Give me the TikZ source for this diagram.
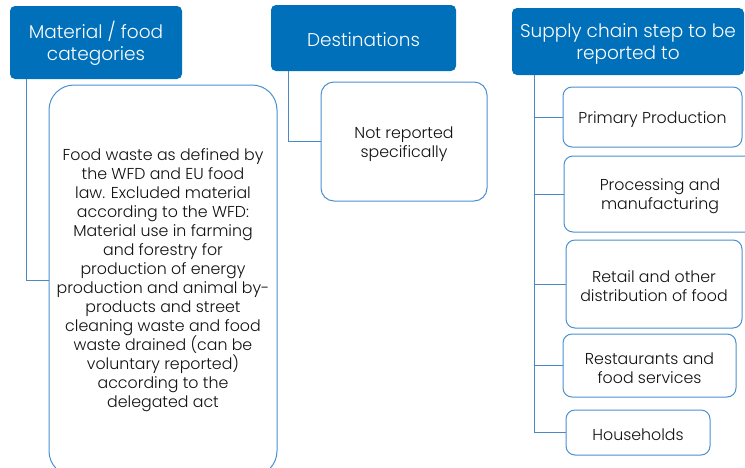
\documentclass[tikz,border=0pt]{standalone}
\usepackage{fontspec}
\setmainfont{Poppins Light}
\usetikzlibrary{calc}
\definecolor{headblue}{HTML}{0070BA}
\definecolor{edgeblue}{HTML}{4A90D2}
\definecolor{linkblue}{HTML}{4A88C6}
\definecolor{ink}{HTML}{111111}
% taller first line, to lower the text block a little in its box
\newcommand{\headstrut}{\rule{0pt}{18pt}}
\newcommand{\itemstrut}{\rule{0pt}{16.5pt}}
\tikzset{
  header/.style={fill=headblue, draw=none, rounded corners=5pt, text=white,
    align=center, font=\fontsize{18.5}{22}\selectfont, inner sep=0pt},
  item/.style={draw=edgeblue, line width=1pt, fill=white, rounded corners=9pt,
    text=ink, align=center, font=\fontsize{15.8}{19}\selectfont, inner sep=0pt},
  link/.style={draw=linkblue, line width=1pt}
}
\begin{document}
\begin{tikzpicture}[x=1pt, y=-1pt]
\useasboundingbox (0,0) rectangle (745,467);
\clip (0,0) rectangle (745,467);

% column headers
\node[header, minimum width=172pt, minimum height=73pt] (h1) at (96,42.5)
  {\headstrut Material / food\\categories};
\node[header, minimum width=185pt, minimum height=66pt] (h2) at (363.5,38)
  {\headstrut Destinations};
\node[header, minimum width=232pt, minimum height=67pt] (h3) at (628,41.5)
  {\headstrut Supply chain step to be\\reported to};

% material / food categories
\node[item, rounded corners=25pt, minimum width=228pt, minimum height=391pt] (big) at (163,280.5)
  {Food waste as defined by\\the WFD and EU food\\law. Excluded material\\according to the WFD:\\
   Material use in farming\\and forestry for\\production of energy\\production and animal by-\\
   products and street\\cleaning waste and food\\waste drained (can be\\voluntary reported)\\
   according to the\\delegated act};

% destinations
\node[item, rounded corners=13pt, minimum width=166pt, minimum height=119pt] (nr) at (404,141.5)
  {\itemstrut Not reported\\specifically};

% supply chain steps
\node[item, minimum width=179pt, minimum height=60pt] (pp) at (652.5,117) {\itemstrut Primary Production};
\node[item, minimum width=192pt, minimum height=76pt] (proc) at (660,194) {\itemstrut Processing and\\manufacturing};
\node[item, minimum width=176pt, minimum height=88pt] (ret) at (654,284) {\itemstrut Retail and other\\distribution of food};
\node[item, minimum width=173pt, minimum height=63pt] (rest) at (649.5,365.5) {\itemstrut Restaurants and\\food services};
\node[item, minimum width=144pt, minimum height=45pt] (hh) at (638,432.5) {\itemstrut Households};

% connectors
\coordinate (t1) at ($(h1.south west)+(17,0)$);
\coordinate (t2) at ($(h2.south west)+(18,0)$);
\coordinate (t3) at ($(h3.south west)+(23,0)$);
\draw[link] (t1) |- (big.west);
\draw[link] (t2) |- (nr.west);
\draw[link] (t3) |- (hh.west);
\foreach \n in {pp,proc,ret,rest}
  \draw[link] (t3 |- \n.west) -- (\n.west);
\end{tikzpicture}
\end{document}
